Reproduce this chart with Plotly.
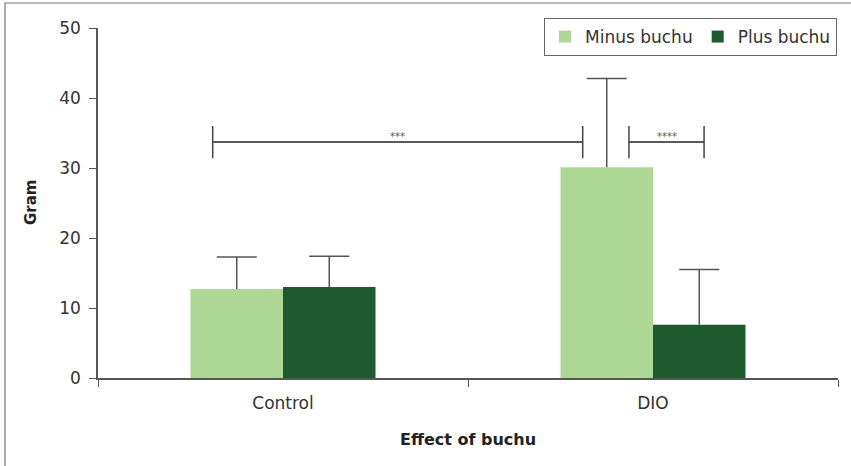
import plotly.graph_objects as go

categories = ["Control", "DIO"]
minus_buchu = [12.7, 30.1]
minus_err = [4.6, 12.7]
plus_buchu = [13.0, 7.6]
plus_err = [4.4, 7.9]
y_ticks = [0, 10, 20, 30, 40, 50]

# significance brackets: (x_start, x_end, y, label) in category units / data units
brackets = [(-0.19, 0.81, 33.7, "***"), (0.935, 1.138, 33.7, "****")]
bracket_tick = 2.3

FONT = "DejaVu Sans"
LIGHT = "#acd794"
DARK = "#1d5a2e"
ERR = "#555555"

# pixel layout
L, T, W, H = 98, 28, 740, 350
FW, FH = 851, 466
def px(x):
    return (x - L) / W
def py(y):
    return (T + H - y) / H

BARGAP = 0.5
bar_w = (1 - BARGAP) / 2          # width of one bar in category units
cap_half = 20 / (W / 2)           # 20 px half-cap in category units

fig = go.Figure()
fig.add_trace(go.Bar(x=categories, y=minus_buchu, name="Minus buchu",
                     marker=dict(color=LIGHT, line=dict(width=0))))
fig.add_trace(go.Bar(x=categories, y=plus_buchu, name="Plus buchu",
                     marker=dict(color=DARK, line=dict(width=0))))

shapes = []
annotations = []

# upper-only error bars (no lower cap), drawn on the bar axes
for series, errs, off in ((minus_buchu, minus_err, -bar_w / 2),
                          (plus_buchu, plus_err, bar_w / 2)):
    for i, (v, e) in enumerate(zip(series, errs)):
        xc = i + off
        shapes.append(dict(type="line", xref="x", yref="y", x0=xc, x1=xc,
                           y0=v, y1=v + e, line=dict(color=ERR, width=1.5)))
        shapes.append(dict(type="line", xref="x", yref="y",
                           x0=xc - cap_half, x1=xc + cap_half, y0=v + e, y1=v + e,
                           line=dict(color=ERR, width=1.5)))

for x0, x1, y, lab in brackets:
    shapes.append(dict(type="line", xref="x", yref="y", x0=x0, x1=x1, y0=y, y1=y,
                       line=dict(color="#222", width=1.5)))
    for xx in (x0, x1):
        shapes.append(dict(type="line", xref="x", yref="y", x0=xx, x1=xx,
                           y0=y - bracket_tick, y1=y + bracket_tick,
                           line=dict(color="#444", width=1.5)))
    annotations.append(dict(x=(x0 + x1) / 2, y=y, xref="x", yref="y", text=lab,
                            showarrow=False, yanchor="bottom", yshift=-2,
                            font=dict(family=FONT, size=10, color="#555")))

# outer frame
shapes.append(dict(type="rect", xref="paper", yref="paper",
                   x0=px(5), x1=px(856), y0=py(471), y1=py(3),
                   line=dict(color="#777", width=1.2), layer="below"))

# axis titles
annotations.append(dict(xref="paper", yref="paper", x=px(468), y=py(440),
                        text="<b>Effect of buchu</b>", showarrow=False,
                        xanchor="center", yanchor="middle",
                        font=dict(family=FONT, size=16, color="#222")))
annotations.append(dict(xref="paper", yref="paper", x=px(31), y=py(203),
                        text="<b>Gram</b>", showarrow=False, textangle=-90,
                        xanchor="center", yanchor="middle",
                        font=dict(family=FONT, size=15, color="#222")))

fig.update_layout(
    width=FW, height=FH,
    margin=dict(l=L, r=FW - L - W, t=T, b=FH - T - H, autoexpand=False),
    paper_bgcolor="white", plot_bgcolor="white",
    barmode="group", bargap=BARGAP, bargroupgap=0,
    font=dict(family=FONT, size=17, color="#333"),
    showlegend=True,
    legend=dict(orientation="h", xref="container", yref="container",
                x=837 / FW, xanchor="right", y=1 - 18 / FH, yanchor="top",
                bordercolor="#666", borderwidth=1, font=dict(size=17, color="#333"),
                itemwidth=30, tracegroupgap=0),
    shapes=shapes, annotations=annotations,
    xaxis=dict(range=[-0.5, 1.5], showline=True, linecolor="#555", linewidth=1.5,
               ticks="outside", tickson="boundaries", ticklen=7, tickcolor="#555",
               tickfont=dict(size=17, color="#333"), ticklabelstandoff=9,
               automargin=False),
    yaxis=dict(range=[0, 50], tickvals=y_ticks, showline=True, linecolor="#555",
               linewidth=1.5, ticks="outside", ticklen=7, tickcolor="#555",
               showgrid=False, zeroline=False, tickfont=dict(size=17, color="#333"),
               ticklabelstandoff=5, automargin=False),
)

fig.write_html("out.html", config={"displayModeBar": False},
               post_script="document.body.style.margin='0';")
